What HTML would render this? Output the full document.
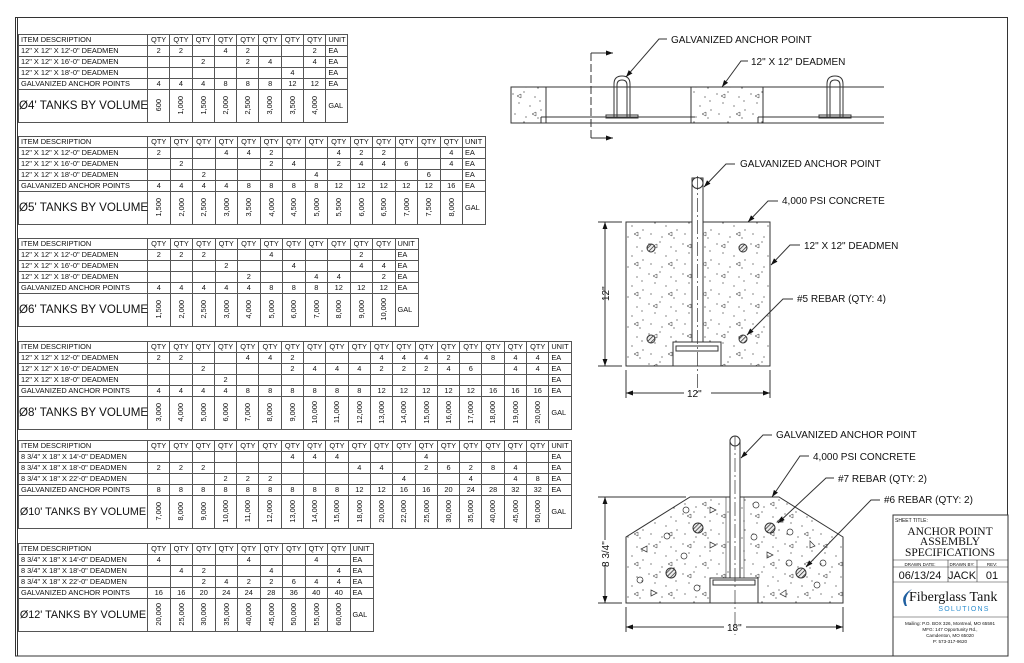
<!DOCTYPE html>
<html><head><meta charset="utf-8"><style>
html,body{margin:0;padding:0;background:#fff;width:1024px;height:663px;overflow:hidden;position:relative;font-family:"Liberation Sans",Arial,sans-serif;color:#111}
table{position:absolute;left:18px;border-collapse:collapse;table-layout:fixed;font-size:7.4px;line-height:1}
td{border:1px solid #555;padding:0 1px;height:10px;text-align:center;white-space:nowrap;overflow:hidden}
td.d{text-align:left;padding-left:2px}
td.u{text-align:left;padding-left:2px}
tr.v td{height:32px}
tr.v td.t{font-size:11.6px;text-align:center;padding:0;overflow:visible}
tr.v td.t2{font-size:10.8px}
.r{display:inline-block;writing-mode:vertical-rl;transform:rotate(180deg);font-size:7.4px}
svg{position:absolute;left:0;top:0}
svg text{font-family:"Liberation Sans",Arial,sans-serif;fill:#111}
svg text.s{font-family:"Liberation Serif",serif}
</style></head><body>

<table style="top:34px;width:330px"><colgroup><col style="width:129px"><col span="8" style="width:22.3px"><col style="width:22px"></colgroup>
<tr><td class="d">ITEM DESCRIPTION</td><td>QTY</td><td>QTY</td><td>QTY</td><td>QTY</td><td>QTY</td><td>QTY</td><td>QTY</td><td>QTY</td><td class="u">UNIT</td></tr>
<tr><td class="d">12" X 12" X 12'-0" DEADMEN</td><td>2</td><td>2</td><td></td><td>4</td><td>2</td><td></td><td></td><td>2</td><td class="u">EA</td></tr>
<tr><td class="d">12" X 12" X 16'-0" DEADMEN</td><td></td><td></td><td>2</td><td></td><td>2</td><td>4</td><td></td><td>4</td><td class="u">EA</td></tr>
<tr><td class="d">12" X 12" X 18'-0" DEADMEN</td><td></td><td></td><td></td><td></td><td></td><td></td><td>4</td><td></td><td class="u">EA</td></tr>
<tr><td class="d">GALVANIZED ANCHOR POINTS</td><td>4</td><td>4</td><td>4</td><td>8</td><td>8</td><td>8</td><td>12</td><td>12</td><td class="u">EA</td></tr>
<tr class="v"><td class="t">Ø4' TANKS BY VOLUME</td><td><span class="r">600</span></td><td><span class="r">1,000</span></td><td><span class="r">1,500</span></td><td><span class="r">2,000</span></td><td><span class="r">2,500</span></td><td><span class="r">3,000</span></td><td><span class="r">3,500</span></td><td><span class="r">4,000</span></td><td class="u">GAL</td></tr>
</table>

<table style="top:136px;width:467px"><colgroup><col style="width:129px"><col span="14" style="width:22.5px"><col style="width:23px"></colgroup>
<tr><td class="d">ITEM DESCRIPTION</td><td>QTY</td><td>QTY</td><td>QTY</td><td>QTY</td><td>QTY</td><td>QTY</td><td>QTY</td><td>QTY</td><td>QTY</td><td>QTY</td><td>QTY</td><td>QTY</td><td>QTY</td><td>QTY</td><td class="u">UNIT</td></tr>
<tr><td class="d">12" X 12" X 12'-0" DEADMEN</td><td>2</td><td></td><td></td><td>4</td><td>4</td><td>2</td><td></td><td></td><td>4</td><td>2</td><td>2</td><td></td><td></td><td>4</td><td class="u">EA</td></tr>
<tr><td class="d">12" X 12" X 16'-0" DEADMEN</td><td></td><td>2</td><td></td><td></td><td></td><td>2</td><td>4</td><td></td><td>2</td><td>4</td><td>4</td><td>6</td><td></td><td>4</td><td class="u">EA</td></tr>
<tr><td class="d">12" X 12" X 18'-0" DEADMEN</td><td></td><td></td><td>2</td><td></td><td></td><td></td><td></td><td>4</td><td></td><td></td><td></td><td></td><td>6</td><td></td><td class="u">EA</td></tr>
<tr><td class="d">GALVANIZED ANCHOR POINTS</td><td>4</td><td>4</td><td>4</td><td>4</td><td>8</td><td>8</td><td>8</td><td>8</td><td>12</td><td>12</td><td>12</td><td>12</td><td>12</td><td>16</td><td class="u">EA</td></tr>
<tr class="v"><td class="t">Ø5' TANKS BY VOLUME</td><td><span class="r">1,500</span></td><td><span class="r">2,000</span></td><td><span class="r">2,500</span></td><td><span class="r">3,000</span></td><td><span class="r">3,500</span></td><td><span class="r">4,000</span></td><td><span class="r">4,500</span></td><td><span class="r">5,000</span></td><td><span class="r">5,500</span></td><td><span class="r">6,000</span></td><td><span class="r">6,500</span></td><td><span class="r">7,000</span></td><td><span class="r">7,500</span></td><td><span class="r">8,000</span></td><td class="u">GAL</td></tr>
</table>

<table style="top:238px;width:400px"><colgroup><col style="width:129px"><col span="11" style="width:22.5px"><col style="width:23px"></colgroup>
<tr><td class="d">ITEM DESCRIPTION</td><td>QTY</td><td>QTY</td><td>QTY</td><td>QTY</td><td>QTY</td><td>QTY</td><td>QTY</td><td>QTY</td><td>QTY</td><td>QTY</td><td>QTY</td><td class="u">UNIT</td></tr>
<tr><td class="d">12" X 12" X 12'-0" DEADMEN</td><td>2</td><td>2</td><td>2</td><td></td><td></td><td>4</td><td></td><td></td><td></td><td>2</td><td></td><td class="u">EA</td></tr>
<tr><td class="d">12" X 12" X 16'-0" DEADMEN</td><td></td><td></td><td></td><td>2</td><td></td><td></td><td>4</td><td></td><td></td><td>4</td><td>4</td><td class="u">EA</td></tr>
<tr><td class="d">12" X 12" X 18'-0" DEADMEN</td><td></td><td></td><td></td><td></td><td>2</td><td></td><td></td><td>4</td><td>4</td><td></td><td>2</td><td class="u">EA</td></tr>
<tr><td class="d">GALVANIZED ANCHOR POINTS</td><td>4</td><td>4</td><td>4</td><td>4</td><td>4</td><td>8</td><td>8</td><td>8</td><td>12</td><td>12</td><td>12</td><td class="u">EA</td></tr>
<tr class="v"><td class="t">Ø6' TANKS BY VOLUME</td><td><span class="r">1,500</span></td><td><span class="r">2,000</span></td><td><span class="r">2,500</span></td><td><span class="r">3,000</span></td><td><span class="r">4,000</span></td><td><span class="r">5,000</span></td><td><span class="r">6,000</span></td><td><span class="r">7,000</span></td><td><span class="r">8,000</span></td><td><span class="r">9,000</span></td><td><span class="r">10,000</span></td><td class="u">GAL</td></tr>
</table>

<table style="top:341px;width:554px"><colgroup><col style="width:129px"><col span="18" style="width:22.3px"><col style="width:23px"></colgroup>
<tr><td class="d">ITEM DESCRIPTION</td><td>QTY</td><td>QTY</td><td>QTY</td><td>QTY</td><td>QTY</td><td>QTY</td><td>QTY</td><td>QTY</td><td>QTY</td><td>QTY</td><td>QTY</td><td>QTY</td><td>QTY</td><td>QTY</td><td>QTY</td><td>QTY</td><td>QTY</td><td>QTY</td><td class="u">UNIT</td></tr>
<tr><td class="d">12" X 12" X 12'-0" DEADMEN</td><td>2</td><td>2</td><td></td><td></td><td>4</td><td>4</td><td>2</td><td></td><td></td><td></td><td>4</td><td>4</td><td>4</td><td>2</td><td></td><td>8</td><td>4</td><td>4</td><td class="u">EA</td></tr>
<tr><td class="d">12" X 12" X 16'-0" DEADMEN</td><td></td><td></td><td>2</td><td></td><td></td><td></td><td>2</td><td>4</td><td>4</td><td>4</td><td>2</td><td>2</td><td>2</td><td>4</td><td>6</td><td></td><td>4</td><td>4</td><td class="u">EA</td></tr>
<tr><td class="d">12" X 12" X 18'-0" DEADMEN</td><td></td><td></td><td></td><td>2</td><td></td><td></td><td></td><td></td><td></td><td></td><td></td><td></td><td></td><td></td><td></td><td></td><td></td><td></td><td class="u">EA</td></tr>
<tr><td class="d">GALVANIZED ANCHOR POINTS</td><td>4</td><td>4</td><td>4</td><td>4</td><td>8</td><td>8</td><td>8</td><td>8</td><td>8</td><td>8</td><td>12</td><td>12</td><td>12</td><td>12</td><td>12</td><td>16</td><td>16</td><td>16</td><td class="u">EA</td></tr>
<tr class="v"><td class="t">Ø8' TANKS BY VOLUME</td><td><span class="r">3,000</span></td><td><span class="r">4,000</span></td><td><span class="r">5,000</span></td><td><span class="r">6,000</span></td><td><span class="r">7,000</span></td><td><span class="r">8,000</span></td><td><span class="r">9,000</span></td><td><span class="r">10,000</span></td><td><span class="r">11,000</span></td><td><span class="r">12,000</span></td><td><span class="r">13,000</span></td><td><span class="r">14,000</span></td><td><span class="r">15,000</span></td><td><span class="r">16,000</span></td><td><span class="r">17,000</span></td><td><span class="r">18,000</span></td><td><span class="r">19,000</span></td><td><span class="r">20,000</span></td><td class="u">GAL</td></tr>
</table>

<table style="top:440px;width:554px"><colgroup><col style="width:129px"><col span="18" style="width:22.3px"><col style="width:23px"></colgroup>
<tr><td class="d">ITEM DESCRIPTION</td><td>QTY</td><td>QTY</td><td>QTY</td><td>QTY</td><td>QTY</td><td>QTY</td><td>QTY</td><td>QTY</td><td>QTY</td><td>QTY</td><td>QTY</td><td>QTY</td><td>QTY</td><td>QTY</td><td>QTY</td><td>QTY</td><td>QTY</td><td>QTY</td><td class="u">UNIT</td></tr>
<tr><td class="d">8 3/4" X 18" X 14'-0" DEADMEN</td><td></td><td></td><td></td><td></td><td></td><td></td><td>4</td><td>4</td><td>4</td><td></td><td></td><td></td><td>4</td><td></td><td></td><td></td><td></td><td></td><td class="u">EA</td></tr>
<tr><td class="d">8 3/4" X 18" X 18'-0" DEADMEN</td><td>2</td><td>2</td><td>2</td><td></td><td></td><td></td><td></td><td></td><td></td><td>4</td><td>4</td><td></td><td>2</td><td>6</td><td>2</td><td>8</td><td>4</td><td></td><td class="u">EA</td></tr>
<tr><td class="d">8 3/4" X 18" X 22'-0" DEADMEN</td><td></td><td></td><td></td><td>2</td><td>2</td><td>2</td><td></td><td></td><td></td><td></td><td></td><td>4</td><td></td><td></td><td>4</td><td></td><td>4</td><td>8</td><td class="u">EA</td></tr>
<tr><td class="d">GALVANIZED ANCHOR POINTS</td><td>8</td><td>8</td><td>8</td><td>8</td><td>8</td><td>8</td><td>8</td><td>8</td><td>8</td><td>12</td><td>12</td><td>16</td><td>16</td><td>20</td><td>24</td><td>28</td><td>32</td><td>32</td><td class="u">EA</td></tr>
<tr class="v"><td class="t t2">Ø10' TANKS BY VOLUME</td><td><span class="r">7,000</span></td><td><span class="r">8,000</span></td><td><span class="r">9,000</span></td><td><span class="r">10,000</span></td><td><span class="r">11,000</span></td><td><span class="r">12,000</span></td><td><span class="r">13,000</span></td><td><span class="r">14,000</span></td><td><span class="r">15,000</span></td><td><span class="r">18,000</span></td><td><span class="r">20,000</span></td><td><span class="r">22,000</span></td><td><span class="r">25,000</span></td><td><span class="r">30,000</span></td><td><span class="r">35,000</span></td><td><span class="r">40,000</span></td><td><span class="r">45,000</span></td><td><span class="r">50,000</span></td><td class="u">GAL</td></tr>
</table>

<table style="top:543px;width:355px"><colgroup><col style="width:129px"><col span="9" style="width:22.5px"><col style="width:23px"></colgroup>
<tr><td class="d">ITEM DESCRIPTION</td><td>QTY</td><td>QTY</td><td>QTY</td><td>QTY</td><td>QTY</td><td>QTY</td><td>QTY</td><td>QTY</td><td>QTY</td><td class="u">UNIT</td></tr>
<tr><td class="d">8 3/4" X 18" X 14'-0" DEADMEN</td><td>4</td><td></td><td></td><td></td><td>4</td><td></td><td></td><td>4</td><td></td><td class="u">EA</td></tr>
<tr><td class="d">8 3/4" X 18" X 18'-0" DEADMEN</td><td></td><td>4</td><td>2</td><td></td><td></td><td>4</td><td></td><td></td><td>4</td><td class="u">EA</td></tr>
<tr><td class="d">8 3/4" X 18" X 22'-0" DEADMEN</td><td></td><td></td><td>2</td><td>4</td><td>2</td><td>2</td><td>6</td><td>4</td><td>4</td><td class="u">EA</td></tr>
<tr><td class="d">GALVANIZED ANCHOR POINTS</td><td>16</td><td>16</td><td>20</td><td>24</td><td>24</td><td>28</td><td>36</td><td>40</td><td>40</td><td class="u">EA</td></tr>
<tr class="v"><td class="t t2">Ø12' TANKS BY VOLUME</td><td><span class="r">20,000</span></td><td><span class="r">25,000</span></td><td><span class="r">30,000</span></td><td><span class="r">35,000</span></td><td><span class="r">40,000</span></td><td><span class="r">45,000</span></td><td><span class="r">50,000</span></td><td><span class="r">55,000</span></td><td><span class="r">60,000</span></td><td class="u">GAL</td></tr>
</table>

<svg width="1024" height="663" viewBox="0 0 1024 663">
<defs>
<marker id="a" viewBox="0 0 10 10" refX="10" refY="5" markerWidth="7" markerHeight="7" orient="auto-start-reverse"><path d="M0,1.5 L10,5 L0,8.5z" fill="#111"/></marker>
<pattern id="c" width="34" height="30" patternUnits="userSpaceOnUse">
<g fill="#333"><circle cx="3" cy="4" r=".6"/><circle cx="14" cy="2" r=".6"/><circle cx="25" cy="7" r=".6"/><circle cx="9" cy="13" r=".6"/><circle cx="20" cy="16" r=".6"/><circle cx="31" cy="20" r=".6"/><circle cx="5" cy="24" r=".6"/><circle cx="16" cy="27" r=".6"/><circle cx="28" cy="28" r=".6"/><circle cx="30" cy="11" r=".6"/></g>
<path d="M22,24 l4,-2 v4z M7,6 l4,-2 v4z" fill="none" stroke="#333" stroke-width=".5"/>
</pattern>
<pattern id="h" width="3" height="3" patternUnits="userSpaceOnUse" patternTransform="rotate(45)"><rect width="3" height="3" fill="#eee"/><line x1="0" y1="0" x2="0" y2="3" stroke="#222" stroke-width="1.4"/></pattern>
</defs>
<g fill="none" stroke="#333" stroke-width="1">
<rect x="15.5" y="17.5" width="992" height="638.5"/>
<line x1="17.5" y1="17.5" x2="17.5" y2="656"/>

<rect x="511" y="87" width="35" height="36" fill="url(#c)"/>
<rect x="691" y="87" width="72" height="36" fill="url(#c)"/>
<path d="M546,87 H691 M763,87 H884 M511,123 H691 M763,123 H884 M541,117 H695 M541,117 V123 M758,117 H884 M758,117 V123"/>
<path d="M614,117 V84 Q614,76 622,76 Q630,76 630,84 V117 M617,117 V85 Q617,80 622,80 Q627,80 627,85 V117" />
<rect x="606" y="115" width="32" height="3"/>
<path d="M827,117 V84 Q827,76 835,76 Q843,76 843,84 V117 M830,117 V85 Q830,80 835,80 Q840,80 840,85 V117"/>
<rect x="819" y="115" width="32" height="3"/>
<path d="M591,53 V138" stroke-dasharray="8,3"/>
<path d="M591,53 H613" marker-end="url(#a)"/>
<path d="M591,138 H613" marker-end="url(#a)"/>
<path d="M667,39 H659 L626,77" marker-end="url(#a)"/>
<path d="M748,61 H741 L722,87" marker-end="url(#a)"/>

<rect x="626" y="222" width="144" height="144" fill="url(#c)"/>
<rect x="692" y="178" width="11" height="168" fill="#fff"/>
<circle cx="697.5" cy="183" r="5.5" fill="#fff"/>
<rect x="673" y="342" width="48" height="24" fill="#fff"/>
<rect x="676" y="346" width="42" height="5"/>
<path d="M697.5,176 V396" stroke-dasharray="14,3,2,3" stroke-width=".7"/>
<g fill="url(#h)"><circle cx="651" cy="248" r="4"/><circle cx="743" cy="248" r="4"/><circle cx="651" cy="339" r="4"/><circle cx="743" cy="339" r="4"/></g>
<path d="M598,222 H622 M598,366 H622 M626,370 V398 M770,370 V398"/>
<path d="M605,300 V222" marker-end="url(#a)"/><path d="M605,280 V366" marker-end="url(#a)"/>
<path d="M684,393 H626" marker-end="url(#a)"/><path d="M711,393 H770" marker-end="url(#a)"/>
<path d="M735,164 H726 L704,187" marker-end="url(#a)"/>
<path d="M778,201 H768 L748,222" marker-end="url(#a)"/>
<path d="M800,245 H790 L771,265" marker-end="url(#a)"/>
<path d="M793,299 H783 L747,335" marker-end="url(#a)"/>

<path d="M626,603 V537 L690,497 H779 L843,537 V603 Z" fill="url(#c)"/>
<rect x="730" y="440" width="10" height="140" fill="#fff"/>
<circle cx="735" cy="441" r="5" fill="#fff"/>
<rect x="710" y="578" width="48" height="25" fill="#fff"/>
<rect x="713" y="580" width="42" height="5"/>
<path d="M726,497 V578 M744,497 V578" stroke-width=".6"/>
<path d="M735,436 V635" stroke-dasharray="14,3,2,3" stroke-width=".7"/>
<g fill="url(#h)"><circle cx="698" cy="528" r="5"/><circle cx="770" cy="528" r="5"/><circle cx="671" cy="573" r="5"/><circle cx="801" cy="573" r="5"/></g>
<g stroke-width=".7"><circle cx="686" cy="510" r="3"/><circle cx="667" cy="536" r="3"/><circle cx="684" cy="556" r="3"/><circle cx="640" cy="580" r="3"/><circle cx="697" cy="588" r="3"/><circle cx="756" cy="505" r="3"/><circle cx="754" cy="537" r="3"/><circle cx="790" cy="532" r="3"/><circle cx="789" cy="563" r="3"/><circle cx="823" cy="563" r="3"/><circle cx="817" cy="585" r="3"/><path d="M710,507 l6,3 -6,3z M647,546 l-6,3 6,3z M710,542 l6,3 -6,3z M651,590 l6,3 -6,3z M782,517 l-5,5 6,0z M767,552 l6,3 -6,3z M815,546 l-5,-5 0,7z M780,594 l6,-4 0,7z"/></g>
<path d="M598,497 H686 M598,603 H622 M626,607 V632 M843,607 V632"/>
<path d="M605,540 V497" marker-end="url(#a)"/><path d="M605,565 V603" marker-end="url(#a)"/>
<path d="M724,627 H626" marker-end="url(#a)"/><path d="M746,627 H843" marker-end="url(#a)"/>
<path d="M772,435 H763 L741,458" marker-end="url(#a)"/>
<path d="M809,456 H800 L772,497" marker-end="url(#a)"/>
<path d="M834,478 H826 L778,523" marker-end="url(#a)"/>
<path d="M880,500 H871 L806,567" marker-end="url(#a)"/>

<rect x="893" y="515" width="115" height="141" fill="#fff"/>
<path d="M893,560 H1008 M893,582 H1008 M893,617 H1008 M948,560 V582 M977,560 V582 M893,567 H1008" stroke-width=".6"/>
</g>

<g font-size="10">
<text x="671" y="43">GALVANIZED ANCHOR POINT</text>
<text x="751" y="65">12" X 12" DEADMEN</text>
<text x="740" y="167">GALVANIZED ANCHOR POINT</text>
<text x="782" y="204">4,000 PSI CONCRETE</text>
<text x="804" y="249">12" X 12" DEADMEN</text>
<text x="797" y="302">#5 REBAR (QTY: 4)</text>
<text x="776" y="438">GALVANIZED ANCHOR POINT</text>
<text x="813" y="460">4,000 PSI CONCRETE</text>
<text x="838" y="482">#7 REBAR (QTY: 2)</text>
<text x="884" y="503">#6 REBAR (QTY: 2)</text>
<text x="687" y="397">12"</text>
<text x="727" y="631">18"</text>
<text transform="translate(609,301) rotate(-90)">12"</text>
<text transform="translate(609,567) rotate(-90)">8 3/4"</text>
</g>
<text x="895" y="522" font-size="5">SHEET TITLE:</text>
<g font-size="11.5" text-anchor="middle">
<text class="s" x="950" y="535">ANCHOR POINT</text><text class="s" x="950" y="545">ASSEMBLY</text><text class="s" x="950" y="556">SPECIFICATIONS</text>
</g>
<g font-size="4.5" text-anchor="middle">
<text x="920" y="566">DRAWN DATE:</text><text x="962" y="566">DRAWN BY:</text><text x="992" y="566">REV:</text>
</g>
<g font-size="11" text-anchor="middle">
<text x="920" y="579">06/13/24</text><text x="962" y="579">JACK</text><text x="992" y="579">01</text>
</g>
<path d="M905,606 Q899,596 912,589 Q903,597 907,606z" fill="#1f5fa0"/>
<text class="s" x="909" y="601" font-size="14">Fiberglass Tank</text>
<text x="964" y="611" font-size="7" text-anchor="middle" letter-spacing="1.2" style="fill:#2e8fd0">SOLUTIONS</text>
<g font-size="4.6" text-anchor="middle">
<text x="950" y="625">Mailing: P.O. BOX 326, Montreal, MO 65591</text>
<text x="950" y="631">MFG: 147 Opportunity Rd.,</text>
<text x="950" y="637">Camdenton, MO 65020</text>
<text x="950" y="643">P: 573-317-9620</text>
</g>
</svg>
</body></html>
